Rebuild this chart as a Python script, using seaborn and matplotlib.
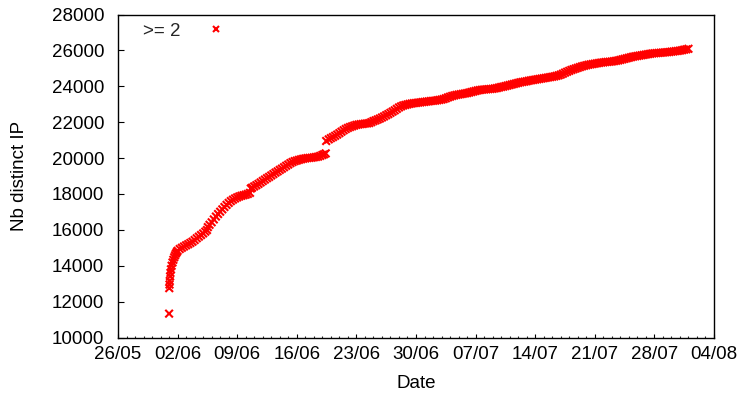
import matplotlib
matplotlib.use("Agg")
import matplotlib.pyplot as plt
import matplotlib.dates as mdates
import seaborn as sns
import pandas as pd

start_date = "2009-05-26"

# days since 26/05 and number of distinct IPs
day_offsets = [
    6.0, 6.02, 6.05, 6.08, 6.12, 6.16, 6.22, 6.3, 6.4, 6.5, 6.6, 6.7, 6.8, 6.9,
    7.0, 7.25, 7.5, 7.75, 8.0, 8.25, 8.5, 8.75, 9.0, 9.25, 9.5, 9.75, 10.0, 10.25, 10.45,
    10.55, 10.75, 11.0, 11.25, 11.5, 11.75, 12.0, 12.25, 12.5, 12.75, 13.0, 13.25,
    13.5, 13.75, 14.0, 14.25, 14.5, 14.75, 15.0, 15.25, 15.5,
    15.6, 15.75, 16.0, 16.25, 16.5, 16.75, 17.0, 17.25, 17.5, 17.75,
    18.0, 18.25, 18.5, 18.75, 19.0, 19.25, 19.5, 19.75, 20.0, 20.25, 20.5, 20.75,
    21.0, 21.25, 21.5, 21.75, 22.0, 22.25, 22.5, 22.75, 23.0, 23.25, 23.5, 23.75,
    24.0, 24.2, 24.4,
    24.45, 24.75, 25.0, 25.25, 25.5, 25.75, 26.0, 26.25, 26.5, 26.75, 27.0, 27.25,
    27.5, 27.75, 28.0, 28.25, 28.5, 28.75, 29.0, 29.25, 29.5, 29.75,
    30.0, 30.25, 30.5, 30.75, 31.0, 31.25, 31.5, 31.75, 32.0, 32.25, 32.5, 32.75,
    33.0, 33.25, 33.5, 33.75, 34.0, 34.25, 34.5, 34.75, 35.0, 35.25, 35.5, 35.75,
    36.0, 36.25, 36.5, 36.75, 37.0, 37.25, 37.5, 37.75, 38.0, 38.25, 38.5, 38.75,
    39.0, 39.25, 39.5, 39.75, 40.0, 40.25, 40.5, 40.75, 41.0, 41.25, 41.5, 41.75,
    42.0, 42.25, 42.5, 42.75, 43.0, 43.25, 43.5, 43.75, 44.0, 44.25, 44.5, 44.75,
    45.0, 45.25, 45.5, 45.75, 46.0, 46.25, 46.5, 46.75, 47.0, 47.25, 47.5, 47.75,
    48.0, 48.25, 48.5, 48.75, 49.0, 49.25, 49.5, 49.75, 50.0, 50.25, 50.5, 50.75,
    51.0, 51.25, 51.5, 51.75, 52.0, 52.25, 52.5, 52.75, 53.0, 53.25, 53.5, 53.75,
    54.0, 54.25, 54.5, 54.75, 55.0, 55.25, 55.5, 55.75, 56.0, 56.25, 56.5, 56.75,
    57.0, 57.25, 57.5, 57.75, 58.0, 58.25, 58.5, 58.75, 59.0, 59.25, 59.5, 59.75,
    60.0, 60.25, 60.5, 60.75, 61.0, 61.25, 61.5, 61.75, 62.0, 62.25, 62.5, 62.75,
    63.0, 63.25, 63.5, 63.75, 64.0, 64.25, 64.5, 64.75, 65.0, 65.25, 65.5, 65.75,
    66.0, 66.25, 66.5, 66.75, 67.0,
]
distinct_ips = [
    11330, 12750, 12950, 13150, 13400, 13600, 13800, 14000, 14180, 14330, 14470, 14580, 14680, 14760,
    14830, 14930, 15000, 15070, 15140, 15200, 15270, 15340, 15430, 15530, 15620, 15710, 15800, 15900, 15990,
    16150, 16280, 16420, 16580, 16740, 16880, 17010, 17140, 17270, 17390, 17500, 17600,
    17680, 17750, 17810, 17860, 17900, 17930, 17960, 18000, 18060,
    18300, 18350, 18420, 18490, 18560, 18640, 18720, 18800, 18880, 18950,
    19030, 19110, 19190, 19260, 19340, 19410, 19490, 19570, 19640, 19720, 19780, 19830,
    19860, 19900, 19930, 19960, 19980, 20000, 20010, 20020, 20040, 20060, 20080, 20120,
    20170, 20210, 20260,
    20950, 21040, 21110, 21170, 21240, 21310, 21390, 21470, 21550, 21620, 21680, 21730,
    21770, 21810, 21850, 21870, 21890, 21900, 21920, 21930, 21950, 22000,
    22060, 22100, 22150, 22200, 22260, 22320, 22390, 22450, 22520, 22590, 22660, 22740,
    22820, 22880, 22930, 22960, 22990, 23020, 23040, 23060, 23070, 23090, 23100, 23120,
    23130, 23150, 23160, 23180, 23190, 23200, 23220, 23240, 23260, 23290, 23330, 23380,
    23420, 23460, 23490, 23520, 23540, 23560, 23580, 23600, 23620, 23650, 23680, 23710,
    23740, 23770, 23790, 23810, 23820, 23830, 23840, 23850, 23860, 23880, 23900, 23930,
    23960, 23980, 24010, 24040, 24070, 24100, 24130, 24160, 24190, 24220, 24240, 24260,
    24280, 24310, 24330, 24350, 24370, 24390, 24410, 24430, 24450, 24470, 24490, 24510,
    24530, 24550, 24580, 24610, 24650, 24700, 24760, 24810, 24860, 24910, 24950, 24990,
    25030, 25070, 25110, 25140, 25170, 25200, 25220, 25240, 25260, 25280, 25300, 25320,
    25330, 25350, 25360, 25370, 25380, 25400, 25420, 25440, 25470, 25500, 25530, 25560,
    25590, 25620, 25650, 25670, 25690, 25710, 25730, 25750, 25770, 25790, 25810, 25830,
    25840, 25850, 25860, 25870, 25880, 25890, 25900, 25910, 25930, 25940, 25960, 25970,
    25990, 26010, 26040, 26060, 26090,
]
series_label = ">= 2"

x_start = "2009-05-26"
x_end = "2009-08-04"
y_ticks = [10000, 12000, 14000, 16000, 18000, 20000, 22000, 24000, 26000, 28000]

sns.set_theme(style="white")
plt.rcParams["font.family"] = ["Liberation Sans", "DejaVu Sans"]

df = pd.DataFrame({
    "Date": pd.Timestamp(start_date) + pd.to_timedelta(day_offsets, unit="D"),
    "Nb distinct IP": distinct_ips,
    "series": series_label,
})

fig = plt.figure(figsize=(7.4, 3.93), dpi=100)
ax = fig.add_axes([118 / 740, 1 - 337.5 / 393, (714 - 118) / 740, (337.5 - 14.5) / 393])

sns.scatterplot(data=df, x="Date", y="Nb distinct IP", hue="series",
                palette=["#ff0000"], marker="x", s=30, linewidth=1.5, ax=ax)

ax.set_xlim(pd.Timestamp(x_start), pd.Timestamp(x_end))
ax.set_ylim(y_ticks[0], y_ticks[-1])
ax.set_yticks(y_ticks)
ax.xaxis.set_major_locator(mdates.RRuleLocator(mdates.rrulewrapper(
    mdates.DAILY, interval=7, dtstart=pd.Timestamp(x_start).to_pydatetime())))
ax.xaxis.set_minor_locator(mdates.DayLocator())
ax.xaxis.set_major_formatter(mdates.DateFormatter("%d/%m"))

for s in ax.spines.values():
    s.set_color("black")
    s.set_linewidth(1.0)

ax.tick_params(axis="both", which="major", labelsize=13.5, colors="black", direction="in")
ax.tick_params(axis="y", which="major", length=4.2, width=0.8, pad=10, left=True, right=False)
ax.tick_params(axis="x", which="major", length=3.0, width=0.8, pad=6, bottom=True, top=False)
ax.tick_params(axis="x", which="minor", length=1.6, width=0.8, direction="in", bottom=True, top=False)

ax.set_xlabel("Date", fontsize=13.5, color="black", labelpad=9)
ax.set_ylabel("Nb distinct IP", fontsize=13.5, color="black", labelpad=17)

leg = ax.legend(loc="upper left", frameon=False, markerfirst=False, fontsize=13.5,
                handletextpad=1.4, handlelength=1.0, borderaxespad=0.3,
                bbox_to_anchor=(0.02, 1.016))
for h in leg.legend_handles:
    try:
        h.set_markersize(4)
    except AttributeError:
        h.set_sizes([16])

fig.savefig("out.png", dpi=100)
